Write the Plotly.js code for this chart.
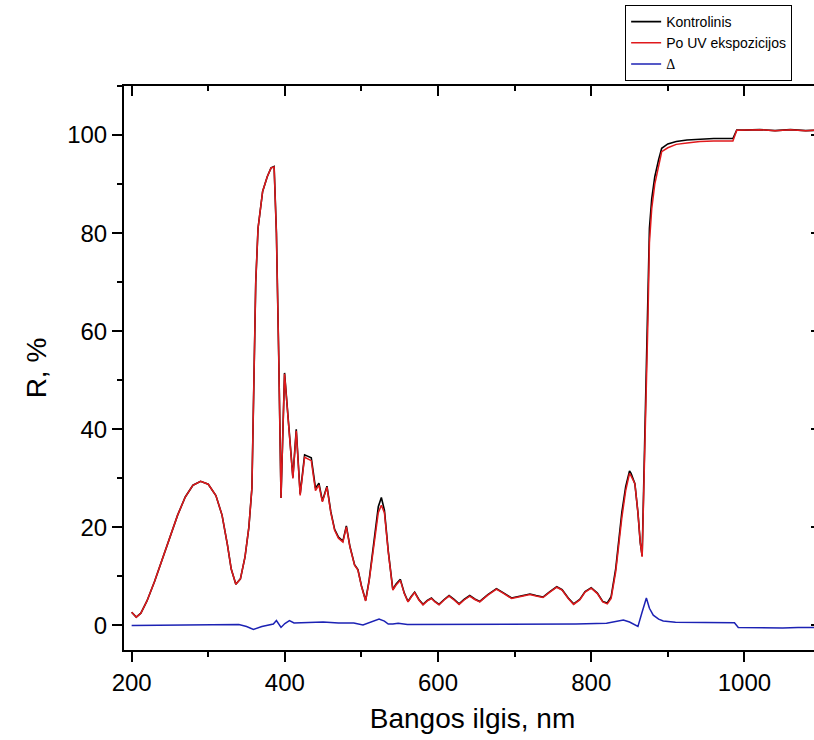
<!DOCTYPE html>
<html>
<head>
<meta charset="utf-8">
<script src="https://cdn.plot.ly/plotly-3.0.1.min.js"></script>
<style>
html,body{margin:0;padding:0;overflow:hidden;background:#fff;}
#chart{width:830px;height:740px;}
</style>
</head>
<body>
<div id="chart"></div>
<script>
// Wavelengths (nm) for reflectance curves
const wl = [200,206,212,220,230,240,250,260,270,280,290,300,310,318,325,330,336,342,348,353,357,360,362,365,371,377,382,386,389,392,395,399.6,405,410.5,414.9,420,425.8,434.5,440,444.5,449,455,460,465,470,475.8,480.3,485,491,495.4,500,505.5,510,516,522,526,530,535,541,545,550.8,556,560.8,565,569.5,575,580.4,586,591.4,596,601.3,608,614.4,621,627.5,634,641.4,648,654.5,665,676.3,686,696,708,720,728,737,746,755,762,770,777,785,792,800,808,815,821,826,832,836,840,845,850,852,857,861,864,866.5,869,871.5,874,876,879,883,888,892,900,911,925,942,960,985,990,1000,1020,1040,1060,1080,1100];

// Kontrolinis (control) reflectance, %
const rControl = [2.7,1.7,2.5,5,9,13.5,18,22.5,26.2,28.6,29.4,28.8,26.5,22.5,16.5,11.5,8.4,9.5,14,20,28,50,70,81,88.5,91.5,93.3,93.6,80,55,26,51.5,40.2,30.2,40,26.8,34.8,34.2,28,29,25.4,28.4,23.2,19.6,18,17.2,20.3,16.1,12.4,11.4,8.1,5.1,9.2,16.6,24.2,26.1,23.5,15.2,7.3,8.4,9.4,6.6,4.9,5.9,6.8,5.3,4.3,5.1,5.6,4.9,4.3,5.3,6.1,5.3,4.4,5.3,6.1,5.4,4.9,6.3,7.5,6.6,5.6,6,6.4,6.1,5.8,6.9,7.9,7.3,5.6,4.4,5.3,6.9,7.7,6.6,4.9,4.6,5.9,11.6,17.7,23.1,28.3,31.5,31,28.9,23,16.9,14.2,32.5,45.6,66,81,87,91.5,95,97.3,98.2,98.7,99,99.2,99.3,99.3,101,101,101.1,100.9,101.1,100.9,101];

// Po UV ekspozicijos (after UV exposure) reflectance, %
const rUV = [2.7,1.7,2.5,5,9,13.5,18,22.5,26.2,28.6,29.4,28.8,26.5,22.5,16.5,11.5,8.4,9.5,14,20,28,50,70,81,88.5,91.5,93.3,93.5,80,55,26,51.3,40,30,39.7,26.5,34.3,33.6,27.5,28.6,25.2,28.2,23,19.4,17.8,17,20.1,16,12.3,11.3,8,5,9,16,23,24.5,23,15,7.2,8.2,9.2,6.5,4.8,5.8,6.7,5.2,4.2,5,5.5,4.8,4.2,5.2,6,5.2,4.3,5.2,6,5.3,4.8,6.2,7.4,6.5,5.5,5.9,6.3,6,5.7,6.8,7.8,7.2,5.5,4.3,5.2,6.8,7.6,6.5,4.8,4.4,5.5,11,17,22,27.5,31,30.5,28.9,23,17,14,30,40,62,78,85,90,94,96.6,97.4,98.1,98.4,98.7,98.8,98.8,101,101,101.1,100.9,101.1,100.9,101];

// Difference curve
const wlDelta = [200,250,300,340,350,359,370,385,389,392,395,400,406,412,430,450,470,490,502,512,523,530,535,541,548,560,600,650,700,750,780,820,832,842,850,861,866,872,876,881,888,894,910,950,987,992,1010,1030,1050,1070,1090,1100];
const delta = [0,0.1,0.2,0.2,-0.2,-0.8,-0.2,0.3,1.0,0.2,-0.4,0.4,1.0,0.5,0.6,0.7,0.5,0.5,0.1,0.6,1.3,0.9,0.3,0.3,0.45,0.2,0.2,0.2,0.2,0.3,0.3,0.45,0.8,1.1,0.7,-0.2,2.5,5.6,3.5,2.1,1.3,0.9,0.65,0.6,0.57,-0.4,-0.45,-0.4,-0.5,-0.4,-0.5,-0.4];

const names = ['Kontrolinis','Po UV ekspozicijos','<span style="font-family:\'Liberation Serif\',serif">Δ</span>'];

const traces = [
  {x: wl, y: rControl, name: names[0], mode:'lines', line:{color:'#000000', width:1.6}},
  {x: wl, y: rUV, name: names[1], mode:'lines', line:{color:'#e0191c', width:1.5}},
  {x: wlDelta, y: delta, name: names[2], mode:'lines', line:{color:'#1c22b4', width:1.5}},
  {x: [], y: [], xaxis:'x2', yaxis:'y2', showlegend:false, hoverinfo:'skip'}
];

const fontFam = 'Liberation Sans, Arial, sans-serif';
const layout = {
  width: 830, height: 740,
  margin: {l:124, r:9, t:86, b:90, autoexpand:false},
  paper_bgcolor:'#ffffff', plot_bgcolor:'#ffffff',
  font: {family: fontFam, color:'#000', size:20},
  showlegend: true,
  legend: {x:0.719, y:1.1436, xanchor:'left', yanchor:'top', bgcolor:'#ffffff', bordercolor:'#000000', borderwidth:1,
           font:{family:fontFam, size:14, color:'#000'}, itemwidth:30},
  xaxis: {range:[190,1100], dtick:200, tick0:0, showgrid:false, zeroline:false, automargin:false,
          showline:true, linecolor:'#000', linewidth:2, ticks:'outside', ticklen:10, tickwidth:2, tickcolor:'#000',
          minor:{dtick:100, ticks:'outside', ticklen:5, tickwidth:2, tickcolor:'#000', showgrid:false},
          tickfont:{size:24, family:fontFam}, title:{text:'Bangos ilgis, nm', font:{size:28, family:fontFam}, standoff:14}},
  yaxis: {range:[-5,110], dtick:20, tick0:0, showgrid:false, zeroline:false, automargin:false,
          showline:true, linecolor:'#000', linewidth:2, ticks:'outside', ticklen:10, tickwidth:2, tickcolor:'#000',
          minor:{dtick:10, ticks:'outside', ticklen:5, tickwidth:2, tickcolor:'#000', showgrid:false},
          tickfont:{size:24, family:fontFam}, title:{text:'R, %', font:{size:28, family:fontFam}, standoff:12}},
  xaxis2: {overlaying:'x', matches:'x', side:'top', range:[190,1100], dtick:200, tick0:0, showgrid:false, zeroline:false,
          showline:true, linecolor:'#000', linewidth:2, ticks:'inside', ticklen:10, tickwidth:2, tickcolor:'#000',
          minor:{dtick:100, ticks:'inside', ticklen:5, tickwidth:2, tickcolor:'#000', showgrid:false},
          showticklabels:false},
  yaxis2: {overlaying:'y', matches:'y', side:'right', range:[-5,110], dtick:20, tick0:0, showgrid:false, zeroline:false,
          showline:true, linecolor:'#000', linewidth:2, ticks:'inside', ticklen:10, tickwidth:2, tickcolor:'#000',
          minor:{dtick:10, ticks:'inside', ticklen:5, tickwidth:2, tickcolor:'#000', showgrid:false},
          showticklabels:false}
};

Plotly.newPlot('chart', traces, layout, {displayModeBar:false, staticPlot:true});
</script>
</body>
</html>
